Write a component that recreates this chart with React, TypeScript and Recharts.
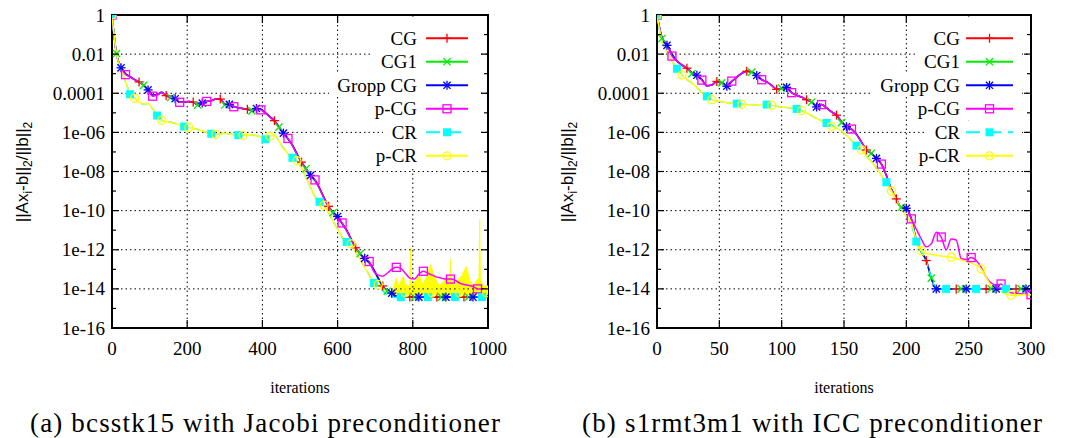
import React from "react";
import { ComposedChart, Line, Area, XAxis, YAxis, ReferenceLine, ReferenceArea } from "recharts";

// iteration grid of each panel
const itersA = [
  0, 12, 24, 36, 48, 60, 72, 84, 96, 108, 120, 132, 144, 156, 168, 180, 192, 204, 216, 228,
  240, 252, 264, 276, 288, 300, 312, 324, 336, 348, 360, 372, 384, 396, 408, 420, 432, 444, 456, 468,
  480, 492, 504, 516, 528, 540, 552, 564, 576, 588, 600, 612, 624, 636, 648, 660, 672, 684, 696, 708,
  720, 732, 744, 756, 768, 780, 792, 804, 816, 828, 840, 852, 864, 876, 888, 900, 912, 924, 936, 948,
  960, 972, 984, 996,
];
const itersB = [
  0, 4, 8, 12, 16, 20, 24, 28, 32, 36, 40, 44, 48, 52, 56, 60, 64, 68, 72, 76,
  80, 84, 88, 92, 96, 100, 104, 108, 112, 116, 120, 124, 128, 132, 136, 140, 144, 148, 152, 156,
  160, 164, 168, 172, 176, 180, 184, 188, 192, 196, 200, 204, 208, 212, 216, 220, 224, 228, 232, 236,
  240, 244, 248, 252, 256, 260, 264, 268, 272, 276, 280, 284, 288, 292, 296, 300,
];

// log10 of ||Ax_i-b||/||b||, panel (a)
const cgA = [
  0, -2.0, -2.68, -3.0, -3.15, -3.3, -3.42, -3.58, -3.82, -4.1,
  -4.08, -3.95, -4.12, -4.22, -4.28, -4.45, -4.45, -4.42, -4.45, -4.58,
  -4.5, -4.42, -4.38, -4.3, -4.3, -4.55, -4.58, -4.68, -4.75, -4.78,
  -4.82, -4.88, -4.8, -4.82, -5.0, -5.2, -5.4, -5.72, -6.04, -6.33,
  -6.65, -7.1, -7.52, -7.85, -8.22, -8.45, -8.85, -9.35, -9.78, -10.1,
  -10.38, -10.65, -11.0, -11.45, -11.9, -12.2, -12.45, -12.65, -13.0, -13.45,
  -13.85, -14.1, -14.25, -14.38, -14.42, -14.42, -14.42, -14.42, -14.42, -14.42,
  -14.42, -14.42, -14.42, -14.42, -14.42, -14.42, -14.42, -14.42, -14.42, -14.42,
  -14.42, -14.42, -14.42, -14.42,
];
const cg1A = [
  0, -1.97, -2.68, -3.0, -3.15, -3.3, -3.43, -3.6, -3.82, -4.1,
  -4.08, -3.96, -4.12, -4.22, -4.28, -4.45, -4.46, -4.43, -4.47, -4.6,
  -4.5, -4.42, -4.38, -4.31, -4.32, -4.6, -4.58, -4.68, -4.75, -4.79,
  -4.83, -4.9, -4.8, -4.83, -5.02, -5.22, -5.42, -5.73, -6.05, -6.35,
  -6.68, -7.12, -7.55, -7.86, -8.24, -8.48, -8.88, -9.38, -9.8, -10.1,
  -10.4, -10.68, -11.02, -11.48, -11.92, -12.2, -12.47, -12.68, -13.05, -13.5,
  -13.9, -14.12, -14.27, -14.4, -14.42, -14.42, -14.42, -14.42, -14.42, -14.42,
  -14.42, -14.42, -14.42, -14.42, -14.42, -14.42, -14.42, -14.42, -14.42, -14.42,
  -14.42, -14.42, -14.42, -14.42,
];
const groppA = [
  0, -2.0, -2.7, -3.0, -3.15, -3.3, -3.42, -3.58, -3.83, -4.1,
  -4.08, -3.95, -4.12, -4.22, -4.28, -4.45, -4.45, -4.42, -4.45, -4.58,
  -4.5, -4.42, -4.38, -4.3, -4.3, -4.55, -4.57, -4.68, -4.75, -4.78,
  -4.82, -4.88, -4.78, -4.82, -5.0, -5.2, -5.4, -5.72, -6.04, -6.33,
  -6.65, -7.1, -7.52, -7.85, -8.2, -8.45, -8.85, -9.35, -9.78, -10.1,
  -10.3, -10.65, -11.0, -11.45, -11.9, -12.2, -12.44, -12.65, -13.0, -13.45,
  -13.85, -14.1, -14.22, -14.38, -14.42, -14.42, -14.42, -14.42, -14.42, -14.42,
  -14.42, -14.42, -14.42, -14.42, -14.42, -14.42, -14.42, -14.42, -14.42, -14.42,
  -14.42, -14.42, -14.42, -14.42,
];
const pcgA = [
  0, -2.0, -2.68, -3.05, -3.15, -3.3, -3.42, -3.58, -3.82, -4.15,
  -4.08, -3.95, -4.12, -4.22, -4.28, -4.46, -4.45, -4.42, -4.45, -4.58,
  -4.5, -4.42, -4.38, -4.3, -4.3, -4.55, -4.58, -4.69, -4.75, -4.78,
  -4.82, -4.88, -4.8, -4.85, -5.02, -5.22, -5.42, -5.75, -6.06, -6.31,
  -6.68, -7.12, -7.55, -7.9, -8.25, -8.43, -8.88, -9.38, -9.8, -10.15,
  -10.42, -10.63, -11.02, -11.48, -11.92, -12.22, -12.48, -12.6, -13.1, -13.3,
  -13.35, -13.2, -13.0, -12.9, -12.95, -13.2, -13.45, -13.5, -13.25, -13.1,
  -13.2, -13.3, -13.4, -13.45, -13.5, -13.5, -13.55, -13.7, -13.78, -13.82,
  -13.88, -14.0, -14.0, -14.0,
];
const crA = [
  0, -2.0, -2.75, -3.4, -4.05, -4.25, -4.45, -4.55, -4.52, -4.8,
  -5.14, -5.38, -5.45, -5.48, -5.55, -5.62, -5.7, -5.75, -5.8, -5.85,
  -5.92, -6.0, -6.07, -6.1, -6.08, -6.05, -6.08, -6.12, -6.14, -6.15,
  -6.15, -6.14, -6.16, -6.25, -6.35, -6.2, -6.15, -6.45, -6.8, -7.1,
  -7.3, -7.48, -7.8, -8.3, -8.8, -9.3, -9.55, -9.75, -10.1, -10.55,
  -10.95, -11.35, -11.6, -11.72, -12.1, -12.5, -12.9, -13.3, -13.7, -13.85,
  -14.1, -14.3, -14.4, -14.42, -14.42, -14.42, -14.42, -14.42, -14.42, -14.42,
  -14.42, -14.42, -14.42, -14.42, -14.42, -14.42, -14.42, -14.42, -14.42, -14.42,
  -14.42, -14.42, -14.42, -14.42,
];
const pcrA = [
  0, -2.0, -2.75, -3.4, -4.05, -4.25, -4.45, -4.55, -4.52, -4.8,
  -5.14, -5.38, -5.45, -5.48, -5.55, -5.62, -5.72, -5.75, -5.8, -5.86,
  -5.92, -6.0, -6.07, -6.1, -6.08, -6.05, -6.08, -6.12, -6.14, -6.15,
  -6.15, -6.14, -6.16, -6.25, -6.35, -6.2, -6.15, -6.45, -6.8, -7.1,
  -7.3, -7.45, -7.8, -8.3, -8.8, -9.3, -9.55, -9.72, -10.1, -10.55,
  -10.95, -11.35, -11.6, -11.7, -12.1, -12.5, -12.9, -13.3, -13.65, -13.77,
  -14.0, -14.1, -14.15, -14.2, -14.2, -14.2, -14.2, -14.2, -14.2, -14.2,
  -14.2, -14.2, -14.2, -14.2, -14.2, -14.2, -14.2, -14.2, -14.2, -14.2,
  -14.2, -14.2, -14.2, -14.2,
];
// p-CR oscillates every iteration near the end: envelope of that band
const noiseItersA = [
  744, 752, 756, 762, 770, 775, 781, 792, 794, 796, 808, 818, 826, 835, 847, 858, 870, 880, 892, 898,
  900, 902, 910, 920, 932, 942, 952, 962, 970, 976, 978, 980, 988, 1000,
];
const noiseHighA = [
  -14.2, -13.7, -13.45, -13.85, -13.55, -13.35, -13.8, -13.85, -11.9, -13.85,
  -13.55, -13.3, -13.8, -13.45, -12.75, -13.35, -13.85, -13.65, -13.35, -13.45,
  -12.5, -13.45, -13.85, -13.55, -13.25, -12.86, -13.6, -13.85, -13.55, -13.45,
  -10.45, -13.55, -13.85, -13.85,
];
const noiseLowA = [
  -14.3, -14.3, -14.3, -14.3, -14.3, -14.3, -14.3, -14.3, -14.3, -14.3,
  -14.3, -14.3, -14.3, -14.3, -14.3, -14.3, -14.3, -14.3, -14.3, -14.3,
  -14.3, -14.3, -14.3, -14.3, -14.3, -14.3, -14.3, -14.3, -14.3, -14.3,
  -14.3, -14.3, -14.3, -14.3,
];

// panel (b)
const cgB = [
  0, -1.15, -1.5, -2.0, -2.35, -2.55, -2.72, -2.95, -3.07, -3.3,
  -3.62, -3.58, -3.4, -3.47, -3.62, -3.4, -3.18, -2.98, -2.88, -2.92,
  -3.08, -3.3, -3.42, -3.6, -3.8, -3.75, -3.7, -3.97, -4.1, -4.2,
  -4.33, -4.45, -4.62, -4.58, -4.75, -4.95, -5.12, -5.45, -5.7, -5.83,
  -6.1, -6.5, -6.9, -7.07, -7.33, -7.62, -8.2, -8.9, -9.4, -9.85,
  -9.9, -10.42, -11.5, -12.1, -12.55, -13.45, -14.0, -14.0, -14.0, -14.0,
  -14.0, -14.0, -14.0, -14.0, -14.0, -14.0, -14.0, -14.0, -14.0, -14.0,
  -14.0, -14.0, -14.0, -14.0, -14.0, -14.0,
];
const cg1B = [
  0, -1.2, -1.52, -2.0, -2.35, -2.56, -2.74, -3.0, -3.08, -3.3,
  -3.62, -3.58, -3.42, -3.47, -3.62, -3.4, -3.18, -2.98, -2.88, -2.92,
  -3.09, -3.3, -3.42, -3.6, -3.8, -3.74, -3.7, -3.97, -4.1, -4.2,
  -4.33, -4.45, -4.62, -4.58, -4.75, -4.95, -5.14, -5.5, -5.7, -5.83,
  -6.1, -6.5, -6.9, -7.07, -7.33, -7.62, -8.2, -8.9, -9.45, -9.83,
  -9.9, -10.42, -11.5, -12.1, -12.6, -13.45, -14.0, -14.0, -14.0, -14.0,
  -14.0, -14.0, -14.0, -14.0, -14.0, -14.0, -14.0, -14.0, -14.0, -14.0,
  -14.0, -14.0, -14.0, -14.0, -14.0, -14.0,
];
const groppB = [
  0, -1.15, -1.55, -2.0, -2.35, -2.55, -2.72, -2.95, -3.08, -3.3,
  -3.62, -3.58, -3.4, -3.47, -3.64, -3.4, -3.18, -2.98, -2.88, -2.92,
  -3.09, -3.3, -3.42, -3.6, -3.8, -3.75, -3.7, -3.97, -4.1, -4.2,
  -4.33, -4.45, -4.7, -4.58, -4.75, -4.95, -5.12, -5.45, -5.71, -5.83,
  -6.1, -6.5, -6.9, -7.07, -7.33, -7.62, -8.2, -8.9, -9.4, -9.85,
  -9.88, -10.42, -11.5, -12.1, -12.55, -13.45, -14.0, -14.0, -14.0, -14.0,
  -14.0, -14.0, -14.0, -14.0, -14.0, -14.0, -14.0, -14.0, -14.0, -14.0,
  -14.0, -14.0, -14.0, -14.0, -14.0, -14.0,
];
const pcgB = [
  0, -1.15, -1.5, -2.1, -2.35, -2.55, -2.72, -2.95, -3.07, -3.33,
  -3.62, -3.58, -3.4, -3.47, -3.62, -3.38, -3.18, -2.98, -2.88, -2.92,
  -3.08, -3.31, -3.42, -3.6, -3.8, -3.75, -3.7, -3.97, -4.1, -4.2,
  -4.33, -4.45, -4.62, -4.58, -4.75, -4.95, -5.12, -5.45, -5.7, -5.83,
  -6.1, -6.5, -6.9, -7.07, -7.33, -7.62, -8.2, -8.9, -9.4, -9.85,
  -9.9, -10.42, -10.95, -11.45, -11.85, -11.7, -11.1, -11.35, -12.0, -11.45,
  -11.5, -12.45, -12.5, -12.4, -12.55, -12.9, -13.4, -13.7, -13.8, -13.75,
  -14.05, -14.2, -14.22, -14.25, -14.28, -14.3,
];
const crB = [
  0, -1.35, -1.9, -2.35, -2.75, -3.05, -3.3, -3.48, -3.7, -3.98,
  -4.16, -4.3, -4.38, -4.44, -4.48, -4.51, -4.53, -4.56, -4.58, -4.59,
  -4.59, -4.58, -4.58, -4.62, -4.66, -4.7, -4.73, -4.76, -4.8, -4.88,
  -5.0, -5.15, -5.28, -5.42, -5.52, -5.62, -5.78, -5.92, -6.15, -6.4,
  -6.68, -6.9, -7.2, -7.5, -7.82, -8.2, -8.55, -9.0, -9.45, -9.88,
  -10.2, -10.7, -11.58, -12.1, -12.6, -13.4, -14.0, -14.0, -14.0, -14.0,
  -14.0, -14.0, -14.0, -14.0, -14.0, -14.0, -14.0, -14.0, -14.0, -14.0,
  -14.0, -14.0, -14.0, -14.0, -14.0, -14.0,
];
const pcrB = [
  0, -1.35, -1.9, -2.35, -2.75, -3.07, -3.3, -3.48, -3.7, -3.98,
  -4.16, -4.33, -4.38, -4.44, -4.48, -4.51, -4.53, -4.57, -4.58, -4.59,
  -4.59, -4.58, -4.58, -4.62, -4.66, -4.7, -4.73, -4.76, -4.8, -4.88,
  -5.0, -5.15, -5.28, -5.42, -5.52, -5.69, -5.78, -5.92, -6.15, -6.4,
  -6.68, -6.89, -7.2, -7.5, -7.82, -8.2, -8.55, -9.0, -9.45, -9.88,
  -10.3, -10.6, -11.5, -12.05, -12.2, -12.23, -12.28, -12.32, -12.35, -12.38,
  -12.45, -12.52, -12.6, -12.66, -12.8, -12.98, -13.4, -13.85, -14.05, -14.15,
  -14.25, -14.32, -14.32, -14.31, -14.3, -14.3,
];

const names = ["CG", "CG1", "Gropp CG", "p-CG", "CR", "p-CR"];
const colors = ["#ff0000", "#00ee00", "#0000ff", "#ff00ff", "#00ffff", "#ffff00"];

const yTicks = [1, 1e-1, 1e-2, 1e-3, 1e-4, 1e-5, 1e-6, 1e-7, 1e-8, 1e-9, 1e-10, 1e-11, 1e-12, 1e-13, 1e-14, 1e-15, 1e-16];
const yLabels = ["1", "0.01", "0.0001", "1e-06", "1e-08", "1e-10", "1e-12", "1e-14", "1e-16"];
const gridY = [1e-2, 1e-4, 1e-6, 1e-8, 1e-10, 1e-12, 1e-14];
const xTicksA = [0, 200, 400, 600, 800, 1000];
const xTicksB = [0, 50, 100, 150, 200, 250, 300];

const MARK_STEP = 6; // one marker every 6 samples, shifted by series index
const serif = { fontFamily: "Liberation Serif, DejaVu Serif, serif" };
const sans = { fontFamily: "Liberation Sans, DejaVu Sans, sans-serif" };
const PLOT_TOP = 15;
const PLOT_H = 313;

function Marker({ kind, x, y, color }: { kind: number; x: number; y: number; color: string }) {
  const r = 4.5;
  const d = 3.6;
  const sw = 1.3;
  if (kind === 0)
    return (
      <g stroke={color} strokeWidth={sw}>
        <line x1={x - r} x2={x + r} y1={y} y2={y} />
        <line x1={x} x2={x} y1={y - r} y2={y + r} />
      </g>
    );
  if (kind === 1)
    return (
      <g stroke={color} strokeWidth={sw}>
        <line x1={x - d} x2={x + d} y1={y - d} y2={y + d} />
        <line x1={x - d} x2={x + d} y1={y + d} y2={y - d} />
      </g>
    );
  if (kind === 2)
    return (
      <g stroke={color} strokeWidth={sw}>
        <line x1={x - r} x2={x + r} y1={y} y2={y} />
        <line x1={x} x2={x} y1={y - r} y2={y + r} />
        <line x1={x - d} x2={x + d} y1={y - d} y2={y + d} />
        <line x1={x - d} x2={x + d} y1={y + d} y2={y - d} />
      </g>
    );
  if (kind === 3) return <rect x={x - 4} y={y - 4} width={8} height={8} fill="none" stroke={color} strokeWidth={sw} />;
  if (kind === 4) return <rect x={x - 4} y={y - 4} width={8} height={8} fill={color} />;
  return <circle cx={x} cy={y} r={4} fill="none" stroke={color} strokeWidth={sw} />;
}

const dotFor = (kind: number, color: string) => (p: any) => {
  const i = p.index;
  const show = i === 0 || (i >= kind && (i - kind) % MARK_STEP === 0);
  if (!show || p.cx == null || p.cy == null) return <g key={`m${kind}-${i}`} />;
  return (
    <g key={`m${kind}-${i}`}>
      <Marker kind={kind} x={p.cx} y={p.cy} color={color} />
    </g>
  );
};

const makeYTick = (plotW: number) => (p: any) => {
  const { x, y, payload } = p;
  const e = Math.round(-Math.log10(payload.value));
  const major = e % 2 === 0;
  const len = major ? 7 : 4;
  const edge = e === 0 || e === 16;
  return (
    <g>
      {!edge && <line x1={x} x2={x + len} y1={y} y2={y} stroke="#000" strokeWidth={1.2} />}
      {!edge && <line x1={x + plotW} x2={x + plotW - len} y1={y} y2={y} stroke="#000" strokeWidth={1.2} />}
      {major && (
        <text x={x - 7} y={y} textAnchor="end" dominantBaseline="central" style={serif} fontSize={19} fill="#000">
          {yLabels[e / 2]}
        </text>
      )}
    </g>
  );
};

const makeXTick = (ticks: number[]) => (p: any) => {
  const { x, y, payload } = p;
  const edge = payload.value === ticks[0] || payload.value === ticks[ticks.length - 1];
  return (
    <g>
      {!edge && <line x1={x} x2={x} y1={y} y2={y - 8} stroke="#000" strokeWidth={1.2} />}
      {!edge && <line x1={x} x2={x} y1={y - PLOT_H} y2={y - PLOT_H + 8} stroke="#000" strokeWidth={1.2} />}
      <text x={x} y={y + 20} textAnchor="middle" dominantBaseline="central" style={serif} fontSize={19} fill="#000">
        {payload.value}
      </text>
    </g>
  );
};

function Panel(props: {
  iters: number[];
  series: number[][];
  xTicks: number[];
  width: number;
  left: number;
  mLeft: number;
  mRight: number;
  noise?: { iters: number[]; low: number[]; high: number[] };
}) {
  const { iters, series, xTicks, width, left, mLeft, mRight, noise } = props;
  const plotW = width - mLeft - 60 - mRight;
  const xMax = xTicks[xTicks.length - 1];
  const noiseData = noise
    ? noise.iters.map((x, i) => ({ x, r: [Math.pow(10, noise.low[i]), Math.pow(10, noise.high[i])] }))
    : [];
  return (
    <div style={{ position: "absolute", left, top: 0 }}>
      <ComposedChart width={width} height={360} margin={{ top: PLOT_TOP, right: mRight, bottom: 7, left: mLeft }}>
        <XAxis
          type="number"
          dataKey="x"
          domain={[0, xMax]}
          ticks={xTicks}
          interval={0}
          allowDataOverflow
          axisLine={false}
          tickLine={false}
          tickSize={0}
          tickMargin={0}
          height={25}
          tick={makeXTick(xTicks)}
        />
        <YAxis
          type="number"
          scale="log"
          domain={[1e-16, 1]}
          ticks={yTicks}
          interval={0}
          allowDataOverflow
          axisLine={false}
          tickLine={false}
          tickSize={0}
          tickMargin={0}
          width={60}
          tick={makeYTick(plotW)}
        />
        {gridY.map((v) => (
          <ReferenceLine key={`gy${v}`} y={v} stroke="#000" strokeWidth={1} strokeDasharray="1.5 3" />
        ))}
        {xTicks.slice(1, -1).map((v) => (
          <ReferenceLine key={`gx${v}`} x={v} stroke="#000" strokeWidth={1} strokeDasharray="1.5 3" />
        ))}
        <ReferenceArea x1={0} x2={xMax} y1={1e-16} y2={1} fill="none" stroke="#000" strokeWidth={2} />
        {series.map((vals, k) => {
          const data = iters.map((x, i) => ({ x, y: Math.pow(10, vals[i]) }));
          const line = (
            <Line
              key={`s${k}`}
              data={data}
              dataKey="y"
              type="monotoneX"
              stroke={colors[k]}
              strokeWidth={1.5}
              strokeDasharray={k === 4 ? "8 4" : undefined}
              dot={dotFor(k, colors[k])}
              activeDot={false}
              isAnimationActive={false}
            />
          );
          if (k === 5 && noise)
            return [
              <Area
                key="noise"
                data={noiseData}
                dataKey="r"
                type="linear"
                stroke={colors[5]}
                strokeWidth={0.8}
                fill={colors[5]}
                fillOpacity={1}
                dot={false}
                activeDot={false}
                isAnimationActive={false}
              />,
              line,
            ];
          return line;
        })}
      </ComposedChart>
    </div>
  );
}

function LegendBox({ textRight, lineX1, lineX2, rectRight }: { textRight: number; lineX1: number; lineX2: number; rectRight: number }) {
  const textW = [27, 36, 80, 42, 26, 41];
  const y0 = 38.3;
  const dy = 23.5;
  return (
    <g>
      {names.map((n, i) => {
        const yc = y0 + i * dy;
        const x0 = textRight - textW[i] - 8;
        const top = i === 0 ? PLOT_TOP + 1.5 : yc - dy / 2;
        return (
          <g key={n}>
            <rect x={x0} y={top} width={rectRight - x0} height={yc + dy / 2 - top} fill="#fff" />
            <text x={textRight} y={yc} textAnchor="end" dominantBaseline="central" style={serif} fontSize={19} fill="#000">
              {n}
            </text>
            <line
              x1={lineX1}
              x2={lineX2}
              y1={yc}
              y2={yc}
              stroke={colors[i]}
              strokeWidth={2}
              strokeDasharray={i === 4 ? "14 7" : undefined}
            />
            <Marker kind={i} x={(lineX1 + lineX2) / 2} y={yc} color={colors[i]} />
          </g>
        );
      })}
    </g>
  );
}

function YLabel({ x, y }: { x: number; y: number }) {
  return (
    <text transform={`translate(${x},${y}) rotate(-90)`} textAnchor="middle" style={sans} fontSize={17} fill="#000">
      ||Ax<tspan dy={4} fontSize={12}>i</tspan>
      <tspan dy={-4}>-b||</tspan>
      <tspan dy={4} fontSize={12}>2</tspan>
      <tspan dy={-4}>/||b||</tspan>
      <tspan dy={4} fontSize={12}>2</tspan>
    </text>
  );
}

export default function App() {
  return (
    <div style={{ position: "absolute", left: 0, top: 0, width: 1072, height: 438, background: "#fff", overflow: "hidden" }}>
      <Panel
        iters={itersA}
        series={[cgA, cg1A, groppA, pcgA, crA, pcrA]}
        xTicks={xTicksA}
        width={540}
        left={0}
        mLeft={52}
        mRight={52}
        noise={{ iters: noiseItersA, low: noiseLowA, high: noiseHighA }}
      />
      <Panel
        iters={itersB}
        series={[cgB, cg1B, groppB, pcgB, crB, pcrB]}
        xTicks={xTicksB}
        width={542}
        left={530}
        mLeft={67}
        mRight={41}
      />
      <svg width={1072} height={438} style={{ position: "absolute", left: 0, top: 0, pointerEvents: "none" }}>
        <LegendBox textRight={417} lineX1={426} lineX2={468} rectRight={479} />
        <LegendBox textRight={960} lineX1={966} lineX2={1013} rectRight={1022} />
        <YLabel x={28} y={172} />
        <YLabel x={573} y={172} />
        <text x={300} y={393} textAnchor="middle" style={serif} fontSize={16} fill="#000">
          iterations
        </text>
        <text x={844} y={393} textAnchor="middle" style={serif} fontSize={16} fill="#000">
          iterations
        </text>
        <text x={30} y={432} textLength={470} lengthAdjust="spacing" style={serif} fontSize={27} fill="#000">
          (a) bcsstk15 with Jacobi preconditioner
        </text>
        <text x={582} y={432} textLength={460} lengthAdjust="spacing" style={serif} fontSize={27} fill="#000">
          (b) s1rmt3m1 with ICC preconditioner
        </text>
      </svg>
    </div>
  );
}
